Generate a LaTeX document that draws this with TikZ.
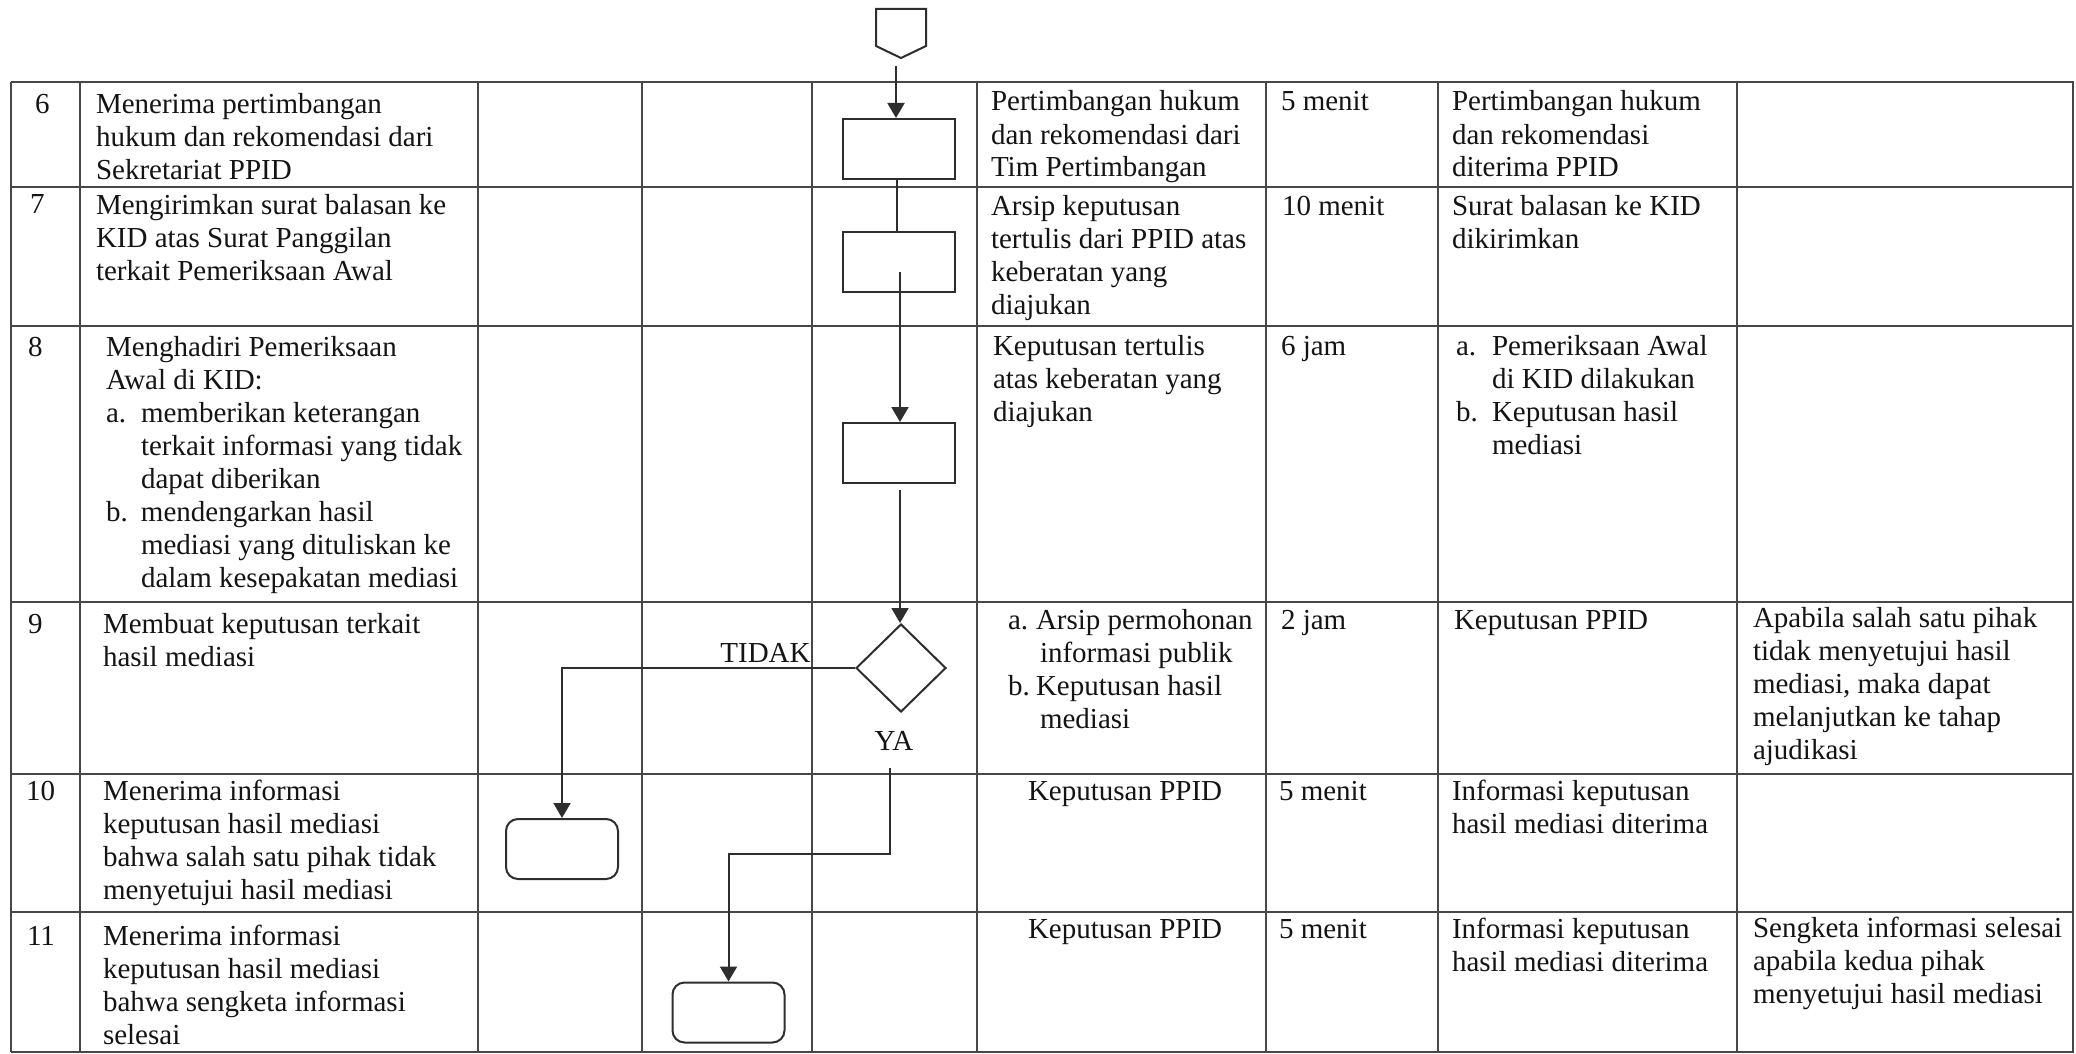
\documentclass[tikz,border=0pt]{standalone}
\usepackage{fontspec}
\setmainfont{Liberation Serif}
\usetikzlibrary{arrows.meta,shapes.geometric}
\newcommand\cf{\fontsize{14.5pt}{16.5pt}\selectfont}
\newcommand\lbl[2]{\makebox[#1][l]{#2}}
\newcommand\ind[1]{\hspace*{#1}}
\newcommand\C[4]{\node[cell] (#1) at (#2,#3-23.1) {\strut #4};}
\begin{document}
\begin{tikzpicture}[x=0.5pt,y=-0.5pt,
  rowline/.style={draw=black!72,line width=1.2pt},
  colline/.style={draw=black!72,line width=0.8pt},
  cell/.style={anchor=north west,inner sep=0pt,outer sep=0pt,align=left,font=\cf,text=black!92},
  box/.style={draw=black!82,line width=1pt,minimum width=56pt,minimum height=30pt,inner sep=0pt},
  rbox/.style={box,rounded corners=6pt},
  decide/.style={draw=black!82,line width=1pt,diamond,minimum width=45pt,minimum height=44pt,inner sep=0pt},
  flow/.style={draw=black!82,line width=1pt},
  arr/.style={flow,-{Triangle[length=7.5pt,width=8.5pt]}},
  lab/.style={font=\cf,inner sep=0pt,text=black!92}]
\useasboundingbox (0,0) rectangle (2076,1054);
\fill[white] (0,0) rectangle (2076,1054);
% table grid
\foreach \y in {82,187,326,602,774,912,1052} \draw[rowline] (11,\y) -- (2074,\y);
\foreach \x in {11,80,478,642,812,977,1266,1438,1737,2073} \draw[colline] (\x,82) -- (\x,1052);
% row numbers
\C{n6}{35}{113}{6}
\C{n7}{30}{213}{7}
\C{n8}{28}{356}{8}
\C{n9}{28}{633}{9}
\C{n10}{26}{800}{10}
\C{n11}{27}{945}{11}
% activity column
\C{a6}{96}{113}{Menerima pertimbangan\\hukum dan rekomendasi dari\\Sekretariat PPID}
\C{a7}{96}{214}{Mengirimkan surat balasan ke\\KID atas Surat Panggilan\\terkait Pemeriksaan Awal}
\C{a8}{106}{356}{Menghadiri Pemeriksaan\\Awal di KID:\\\lbl{17.5pt}{a.}memberikan keterangan\\\ind{17.5pt}terkait informasi yang tidak\\\ind{17.5pt}dapat diberikan\\\lbl{17.5pt}{b.}mendengarkan hasil\\\ind{17.5pt}mediasi yang dituliskan ke\\\ind{17.5pt}dalam kesepakatan mediasi}
\C{a9}{103}{633}{Membuat keputusan terkait\\hasil mediasi}
\C{a10}{103}{800}{Menerima informasi\\keputusan hasil mediasi\\bahwa salah satu pihak tidak\\menyetujui hasil mediasi}
\C{a11}{103}{945}{Menerima informasi\\keputusan hasil mediasi\\bahwa sengketa informasi\\selesai}
% input column
\C{i6}{991}{111}{Pertimbangan hukum\\dan rekomendasi dari\\Tim Pertimbangan}
\C{i7}{991}{215}{Arsip keputusan\\tertulis dari PPID atas\\keberatan yang\\diajukan}
\C{i8}{993}{355}{Keputusan tertulis\\atas keberatan yang\\diajukan}
\C{i9}{1008}{629}{\lbl{14pt}{a.}Arsip permohonan\\\ind{16pt}informasi publik\\\lbl{14pt}{b.}Keputusan hasil\\\ind{16pt}mediasi}
\C{i10}{1028}{800}{Keputusan PPID}
\C{i11}{1028}{938}{Keputusan PPID}
% time column
\C{t6}{1281}{111}{5 menit}
\C{t7}{1282}{215}{10 menit}
\C{t8}{1281}{355}{6 jam}
\C{t9}{1281}{629}{2 jam}
\C{t10}{1279}{800}{5 menit}
\C{t11}{1279}{938}{5 menit}
% output column
\C{o6}{1452}{111}{Pertimbangan hukum\\dan rekomendasi\\diterima PPID}
\C{o7}{1452}{215}{Surat balasan ke KID\\dikirimkan}
\C{o8}{1456}{355}{\lbl{18pt}{a.}Pemeriksaan Awal\\\ind{18pt}di KID dilakukan\\\lbl{18pt}{b.}Keputusan hasil\\\ind{18pt}mediasi}
\C{o9}{1454}{629}{Keputusan PPID}
\C{o10}{1452}{800}{Informasi keputusan\\hasil mediasi diterima}
\C{o11}{1452}{938}{Informasi keputusan\\hasil mediasi diterima}
% notes column
\C{k9}{1753}{627}{Apabila salah satu pihak\\tidak menyetujui hasil\\mediasi, maka dapat\\melanjutkan ke tahap\\ajudikasi}
\C{k11}{1753}{937}{Sengketa informasi selesai\\apabila kedua pihak\\menyetujui hasil mediasi}
% flowchart
\draw[flow] (876,9) -- (926,9) -- (926,46) -- (901,58) -- (876,46) -- cycle;
\coordinate (s0) at (896,66);
\node[box] (b1) at (899,149) {};
\node[box] (b2) at (899,262) {};
\node[box] (b3) at (899,453) {};
\node[decide] (dia) at (901,668) {};
\node[rbox] (b10) at (562,849) {};
\node[rbox] (b11) at (728.5,1012.5) {};
\draw[arr] (s0) -- (s0 |- b1.north);
\draw[flow] ([xshift=-1pt]b1.south) -- ([xshift=-1pt]b2.north);
\coordinate (s1) at (900,272);
\draw[arr] (s1) -- (s1 |- b3.north);
\coordinate (s2) at (900,490);
\draw[arr] (s2) -- (s2 |- dia.north);
\draw[arr] (dia.west) -| (b10.north);
\coordinate (s3) at (890,768);
\coordinate (s4) at (890,854);
\draw[arr] (s3) -- (s4) -| (b11.north);
\node[lab,anchor=base east] (tidak) at (811,662) {TIDAK};
\node[lab,anchor=base] (ya) at (894,750) {YA};
\end{tikzpicture}
\end{document}
